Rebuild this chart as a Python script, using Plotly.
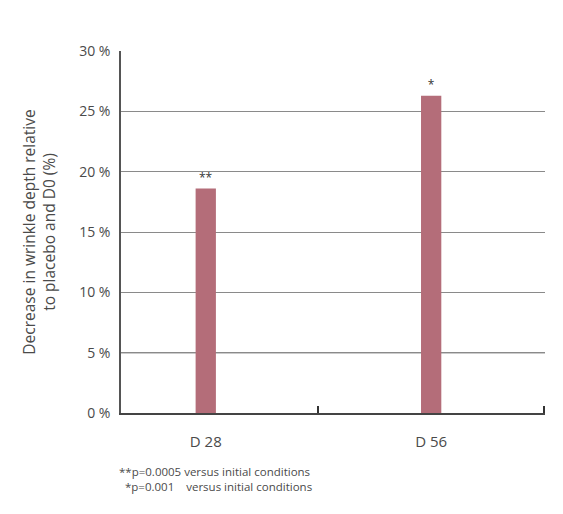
import plotly.graph_objects as go

categories = ["D 28", "D 56"]
values = [18.6, 26.3]
significance = ["**", "*"]
y_ticks = [0, 5, 10, 15, 20, 25, 30]
y_tick_labels = ["0 %", "5 %", "10 %", "15 %", "20 %", "25 %", "30 %"]
footnotes = ["**p=0.0005 versus initial conditions",
             "\u00a0\u00a0*p=0.001\u00a0\u00a0\u00a0 versus initial conditions"]
y_title = "Decrease in wrinkle depth relative<br>to placebo and D0 (%)"

# page body has an 8px margin, so the figure is drawn 8px smaller
OFF = 8
W, H = 563 - OFF, 514 - OFF
ML, MR, MT, MB = 121 - OFF, 18, 51 - OFF, 101
PW, PH = W - ML - MR, H - MT - MB

FONT = "'Open Sans', sans-serif"
TXT = "#4a4a4a"

fig = go.Figure()
fig.add_trace(go.Bar(
    x=categories, y=values, width=0.09,
    marker=dict(color="#b46d79", line=dict(width=0)),
    text=significance, textposition="outside",
    textfont=dict(size=12, color="#333", family=FONT),
    cliponaxis=False,
))

# darker reference line at 5 %
fig.add_hline(y=5, line=dict(color="#333333", width=1.2), layer="below")

fig.update_layout(
    width=W, height=H,
    margin=dict(l=ML, r=MR, t=MT, b=MB),
    paper_bgcolor="white", plot_bgcolor="white",
    showlegend=False,
    font=dict(family=FONT, color=TXT, size=14),
    xaxis=dict(
        type="category", range=[-0.376, 1.505],
        tickson="boundaries", ticks="inside", ticklen=7, tickwidth=2, tickcolor="#333",
        showline=True, linecolor="#444", linewidth=2,
        showgrid=False, ticklabelstandoff=14,
        tickfont=dict(size=15, color=TXT),
    ),
    yaxis=dict(
        range=[0, 30], tickvals=y_ticks, ticktext=y_tick_labels,
        showgrid=True, gridcolor="#8a8a8a", gridwidth=1,
        showline=True, linecolor="#555", linewidth=1.5,
        zeroline=False, ticks="", ticklabelstandoff=6,
        tickfont=dict(size=14, color=TXT),
        title=dict(text=y_title, standoff=20, font=dict(size=15.5, color=TXT)),
    ),
)

fig.add_annotation(
    text="<br>".join(footnotes), xref="paper", yref="paper",
    x=(117 - 121) / PW, xanchor="left", align="left",
    y=-(479 - 413) / PH, yanchor="middle",
    showarrow=False, font=dict(size=11.5, color=TXT, family=FONT),
)

fig.write_html("out.html")
